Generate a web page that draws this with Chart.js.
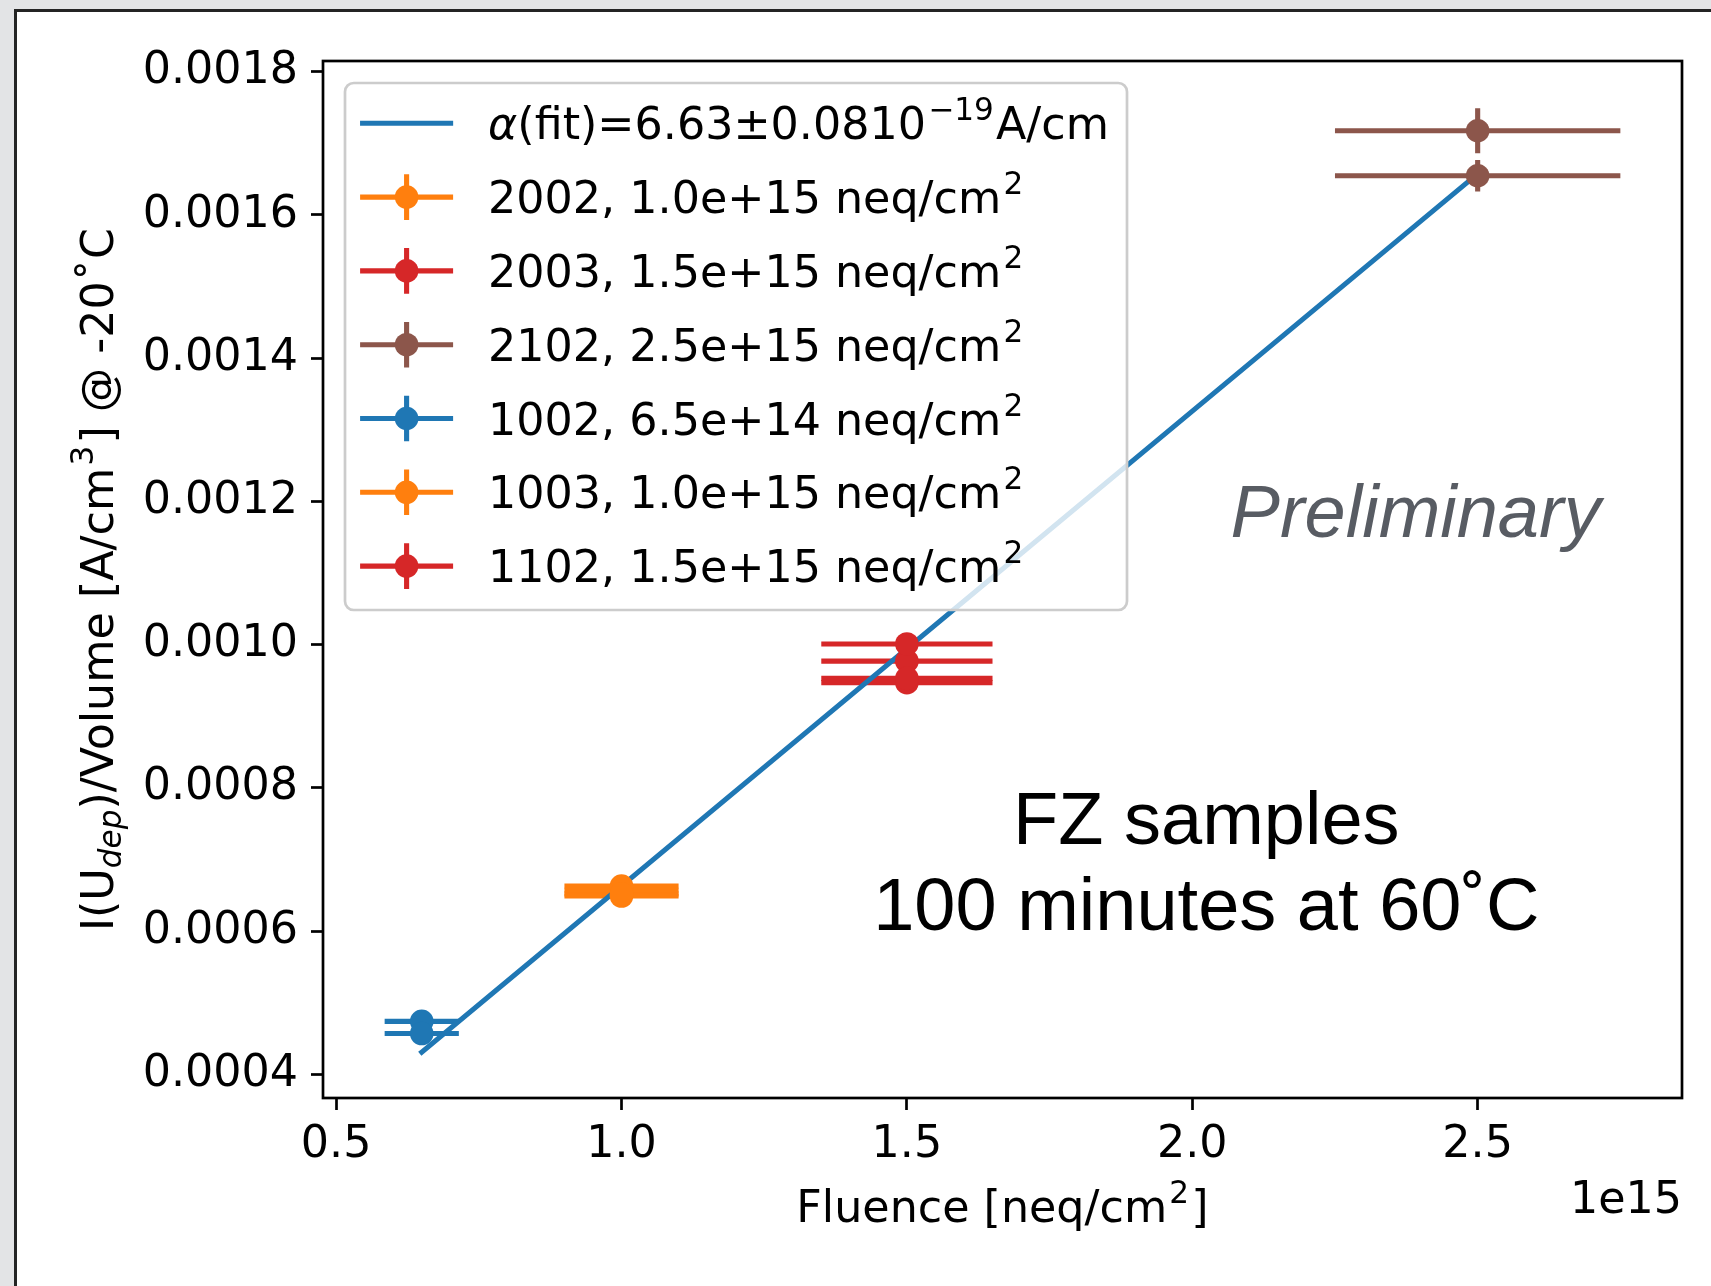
<!DOCTYPE html>
<html>
<head>
<meta charset="utf-8">
<script src="https://cdn.jsdelivr.net/npm/chart.js@4.4.1/dist/chart.umd.min.js"></script>
<style>
  html, body { margin: 0; padding: 0; width: 1711px; height: 1286px; overflow: hidden; background: #e3e4e6; }
  #card { position: absolute; left: 14px; top: 9px; width: 1760px; height: 1340px; background: #fff;
          border-left: 3px solid #242424; border-top: 3px solid #242424; }
  #c { position: absolute; left: 0; top: 0; }
</style>
</head>
<body>
<div id="card"></div>
<canvas id="c" width="1711" height="1286"></canvas>
<script>
// Leakage current per volume at full depletion vs. fluence (FZ samples, 100 min at 60 C)

// axis ticks (fluence in units of 1e15 neq/cm^2)
const fluenceTicks = [0.5, 1.0, 1.5, 2.0, 2.5];
const currentTicks = [0.0004, 0.0006, 0.0008, 0.0010, 0.0012, 0.0014, 0.0016, 0.0018];
const X_MIN = 0.477, X_MAX = 2.858;
const Y_MIN = 0.000367, Y_MAX = 0.001815;

// samples
const sampleNames = ['2002', '2003', '2102', '1002', '1003', '1102'];
const sampleFluenceLabels = ['1.0e+15', '1.5e+15', '2.5e+15', '6.5e+14', '1.0e+15', '1.5e+15'];
const sampleColors = ['#ff7f0e', '#d62728', '#8c564b', '#1f77b4', '#ff7f0e', '#d62728'];
const sampleFluence = [1.0, 1.5, 2.5, 0.65, 1.0, 1.5];
const sampleFluenceErr = [0.10, 0.15, 0.25, 0.065, 0.10, 0.15];
const sampleCurrent = [
  [0.000663, 0.000652],
  [0.001001, 0.000953],
  [0.0017176, 0.0016548],
  [0.000474, 0.000457],
  [0.000657, 0.000649],
  [0.000977, 0.000947]
];
const sampleCurrentErr = [
  [0.000010, 0.000010],
  [0.000012, 0.000012],
  [0.0000314, 0.000022],
  [0.000008, 0.000008],
  [0.000010, 0.000010],
  [0.000012, 0.000012]
];

// linear fit I/V = alpha * fluence
const alphaFit = 6.63e-19;      // A/cm
const fitFluence = [0.65, 2.5];

const FONT = 'DejaVu Sans';
const FS = 44.4;        // base font size
const LW = 5.1;         // data line width
const MARKER_R = 11.8;  // marker radius

// ---- text with sub/superscripts --------------------------------------
function partFont(size, mode, family) {
  const small = (mode === 'sup' || mode === 'sub' || mode === 'subit');
  const it = (mode === 'it' || mode === 'subit');
  return (it ? 'italic ' : '') + (small ? size * 0.7 : size) + 'px "' + family + '"';
}
function partGap(mode, size) {
  return (mode === 'sup') ? 0.05 * size : 0;
}
function richWidth(ctx, parts, size, family) {
  let w = 0;
  for (const [t, m] of parts) {
    ctx.font = partFont(size, m, family);
    w += ctx.measureText(t).width + 2 * partGap(m, size);
  }
  return w;
}
function drawRich(ctx, parts, x, y, size, family, align) {
  const w = richWidth(ctx, parts, size, family);
  let cx = align === 'center' ? x - w / 2 : (align === 'right' ? x - w : x);
  ctx.textAlign = 'left';
  ctx.textBaseline = 'alphabetic';
  for (const [t, m] of parts) {
    ctx.font = partFont(size, m, family);
    let dy = 0;
    if (m === 'sup') dy = -0.43 * size;
    if (m === 'sub' || m === 'subit') dy = 0.2 * size;
    cx += partGap(m, size);
    ctx.fillText(t, cx, y + dy);
    cx += ctx.measureText(t).width + partGap(m, size);
  }
}

// ---- error bars, drawn below the fit line and markers ------------------
const errorBarPlugin = {
  id: 'errorBars',
  beforeDatasetsDraw(chart) {
    const { ctx, chartArea: a, scales: { x, y } } = chart;
    ctx.save();
    ctx.beginPath();
    ctx.rect(a.left, a.top, a.width, a.height);
    ctx.clip();
    ctx.lineWidth = LW;
    ctx.lineCap = 'butt';
    chart.data.datasets.forEach(ds => {
      if (!ds.errorBars) return;
      ctx.strokeStyle = ds.backgroundColor;
      ds.data.forEach(p => {
        const px = x.getPixelForValue(p.x), py = y.getPixelForValue(p.y);
        ctx.beginPath();
        ctx.moveTo(x.getPixelForValue(p.x - p.xErr), py);
        ctx.lineTo(x.getPixelForValue(p.x + p.xErr), py);
        ctx.moveTo(px, y.getPixelForValue(p.y - p.yErr));
        ctx.lineTo(px, y.getPixelForValue(p.y + p.yErr));
        ctx.stroke();
      });
    });
    ctx.restore();
  }
};

// ---- frame, legend and annotations ------------------------------------
const decorPlugin = {
  id: 'decor',
  afterDatasetsDraw(chart) {
    const { ctx, chartArea: a } = chart;
    ctx.save();

    // axes frame
    ctx.strokeStyle = '#000';
    ctx.lineWidth = 2.7;
    ctx.strokeRect(a.left, a.top, a.right - a.left, a.bottom - a.top);

    // legend box
    const lx = a.left + 22, ly = a.top + 22, lw = 782, lh = 527, r = 8.8;
    ctx.beginPath();
    ctx.moveTo(lx + r, ly);
    ctx.arcTo(lx + lw, ly, lx + lw, ly + lh, r);
    ctx.arcTo(lx + lw, ly + lh, lx, ly + lh, r);
    ctx.arcTo(lx, ly + lh, lx, ly, r);
    ctx.arcTo(lx, ly, lx + lw, ly, r);
    ctx.closePath();
    ctx.fillStyle = 'rgba(255,255,255,0.8)';
    ctx.fill();
    ctx.strokeStyle = '#cccccc';
    ctx.lineWidth = 2.7;
    ctx.stroke();

    const hx0 = lx + 17.6, hx1 = hx0 + 88, hxc = (hx0 + hx1) / 2;
    const tx = hx1 + 37.5;
    const rowY = i => ly + 40.3 + i * 73.8;

    // fit entry
    ctx.strokeStyle = '#1f77b4';
    ctx.lineWidth = LW;
    ctx.lineCap = 'square';
    ctx.beginPath();
    ctx.moveTo(hx0, rowY(0));
    ctx.lineTo(hx1, rowY(0));
    ctx.stroke();
    ctx.fillStyle = '#000';
    drawRich(ctx, [['α', 'it'], ['(fit)=6.63±0.0810', ''], ['−19', 'sup'], ['A/cm', '']],
             tx, rowY(0) + 0.3645 * FS, FS, FONT, 'left');

    // sample entries
    sampleNames.forEach((name, i) => {
      const cy = rowY(i + 1);
      const col = sampleColors[i];
      ctx.strokeStyle = col;
      ctx.lineWidth = LW;
      ctx.lineCap = 'butt';
      ctx.beginPath();
      ctx.moveTo(hx0 - 2.5, cy);
      ctx.lineTo(hx1 + 2.5, cy);
      ctx.moveTo(hxc, cy - 22.8);
      ctx.lineTo(hxc, cy + 22.8);
      ctx.stroke();
      ctx.fillStyle = col;
      ctx.beginPath();
      ctx.arc(hxc, cy, MARKER_R, 0, Math.PI * 2);
      ctx.fill();
      ctx.fillStyle = '#000';
      drawRich(ctx, [[name + ', ' + sampleFluenceLabels[i] + ' neq/cm', ''], ['2', 'sup']],
               tx, cy + 0.3645 * FS, FS, FONT, 'left');
    });

    // annotations
    const ax = f => a.left + f * (a.right - a.left);
    const ay = f => a.bottom - f * (a.bottom - a.top);
    ctx.fillStyle = '#000';
    ctx.textAlign = 'center';
    ctx.textBaseline = 'alphabetic';
    ctx.font = '74px "Liberation Sans"';
    ctx.fillText('FZ samples', ax(0.65), ay(0.245));
    ctx.fillText('100 minutes at 60˚C', ax(0.65), ay(0.162));
    ctx.fillStyle = '#585c63';
    ctx.font = 'italic 74px "Liberation Sans"';
    ctx.fillText('Preliminary', ax(0.804), ay(0.541));

    // y axis title
    ctx.save();
    ctx.translate(112.5, (a.top + a.bottom) / 2);
    ctx.rotate(-Math.PI / 2);
    ctx.fillStyle = '#000';
    drawRich(ctx, [['I(U', ''], ['dep', 'subit'], [')/Volume [A/cm', ''], ['3', 'sup'], ['] @ -20˚C', '']],
             0, 0, FS, FONT, 'center');
    ctx.restore();

    // x axis title
    ctx.fillStyle = '#000';
    drawRich(ctx, [['Fluence [neq/cm', ''], ['2', 'sup'], [']', '']],
             (a.left + a.right) / 2, 1222, FS, FONT, 'center');

    // x offset text
    ctx.fillStyle = '#000';
    ctx.font = FS + 'px "' + FONT + '"';
    ctx.textAlign = 'right';
    ctx.fillText('1e15', a.right, 1213);

    ctx.restore();
  }
};

// ---- datasets ----------------------------------------------------------
const datasets = [{
  type: 'line',
  label: 'α(fit)=6.63±0.0810⁻¹⁹A/cm',
  data: fitFluence.map(f => ({ x: f, y: alphaFit * f * 1e15 })),
  borderColor: '#1f77b4',
  borderWidth: LW,
  borderCapStyle: 'square',
  pointRadius: 0,
  fill: false,
  order: 1
}];
sampleNames.forEach((name, i) => {
  datasets.push({
    type: 'scatter',
    label: name + ', ' + sampleFluenceLabels[i] + ' neq/cm²',
    errorBars: true,
    data: sampleCurrent[i].map((v, j) => ({
      x: sampleFluence[i], y: v, xErr: sampleFluenceErr[i], yErr: sampleCurrentErr[i][j]
    })),
    backgroundColor: sampleColors[i],
    borderColor: sampleColors[i],
    borderWidth: 0,
    pointRadius: MARKER_R,
    pointHoverRadius: MARKER_R,
    order: 0
  });
});

const tickFont = { family: FONT, size: FS };

new Chart(document.getElementById('c'), {
  type: 'scatter',
  data: { datasets },
  plugins: [errorBarPlugin, decorPlugin],
  options: {
    responsive: false,
    devicePixelRatio: 1,
    animation: false,
    events: [],
    layout: { padding: { left: 0, top: 61, right: 29, bottom: 0 } },
    plugins: { legend: { display: false }, tooltip: { enabled: false } },
    scales: {
      x: {
        type: 'linear',
        min: X_MIN, max: X_MAX,
        afterBuildTicks: s => { s.ticks = fluenceTicks.map(v => ({ value: v })); },
        afterFit: s => { s.height = 188; },
        grid: { drawOnChartArea: false, drawTicks: true, tickLength: 12, tickWidth: 2.7, tickColor: '#000' },
        border: { display: false },
        ticks: { font: tickFont, color: '#000', padding: 8.5, maxRotation: 0, autoSkip: false,
                 callback: v => v.toFixed(1) },
        title: { display: false }
      },
      y: {
        type: 'linear',
        min: Y_MIN, max: Y_MAX,
        afterBuildTicks: s => { s.ticks = currentTicks.map(v => ({ value: v })); },
        afterFit: s => { s.width = 323; },
        grid: { drawOnChartArea: false, drawTicks: true, tickLength: 12, tickWidth: 2.7, tickColor: '#000' },
        border: { display: false },
        ticks: { font: tickFont, color: '#000', padding: 13, autoSkip: false,
                 callback: v => v.toFixed(4) }
      }
    }
  }
});
</script>
</body>
</html>
